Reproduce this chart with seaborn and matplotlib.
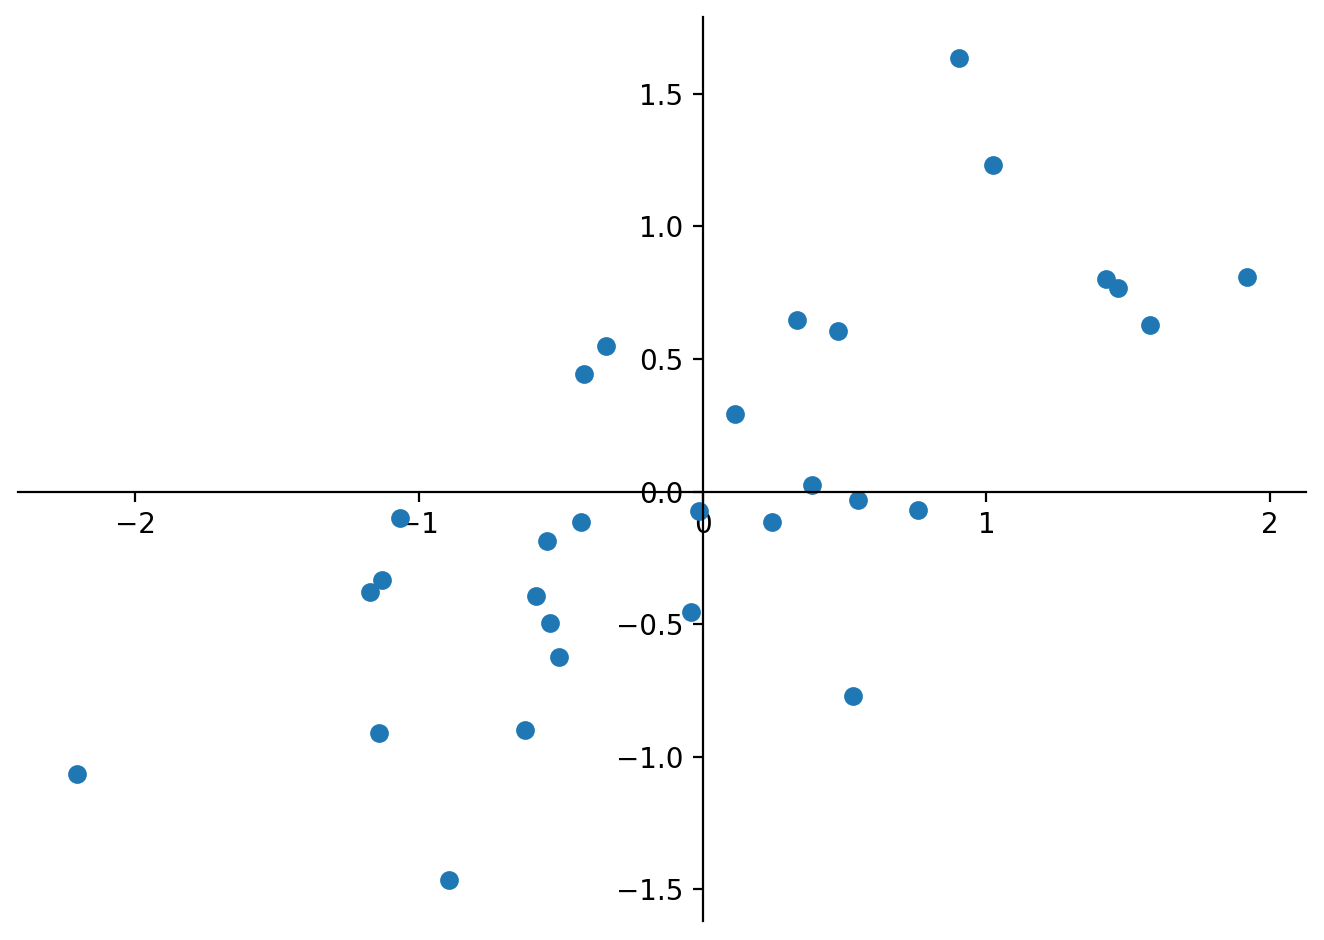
import matplotlib
matplotlib.use("Agg")
import matplotlib.pyplot as plt
import seaborn as sns
import pandas as pd

sns.set_style("ticks", {"axes.edgecolor": "black", "text.color": "black",
                        "xtick.color": "black", "ytick.color": "black",
                        "axes.labelcolor": "black"})
plt.rcParams['font.family'] = ['DejaVu Sans']

# valores
x_vals = [0.904, 1.024, 1.423, 1.465, 1.920, 1.578, 0.332, 0.477, -0.339, -0.417,
          0.113, 0.385, 0.547, 0.759, 0.244, -0.011, -0.427, -0.547, -1.066, -1.130,
          -1.172, -0.586, -0.537, -0.505, -0.042, 0.529, -0.625, -1.140, -2.206, -0.893]
y_vals = [1.634, 1.230, 0.800, 0.766, 0.808, 0.626, 0.645, 0.604, 0.547, 0.445,
          0.291, 0.026, -0.030, -0.068, -0.113, -0.072, -0.113, -0.185, -0.098, -0.332,
          -0.377, -0.392, -0.494, -0.623, -0.453, -0.770, -0.898, -0.909, -1.064, -1.464]

df = pd.DataFrame({"x": x_vals, "y": y_vals})

fig = plt.figure(figsize=(6.62, 4.70), dpi=200)
ax = fig.add_axes([18 / 1324, 1 - 921 / 940, (1306 - 18) / 1324, (921 - 17) / 940])

sns.scatterplot(data=df, x="x", y="y", ax=ax, color="#1f77b4", s=36,
                edgecolor="#1f77b4", linewidth=0.75)

ax.spines['left'].set_position('zero')
ax.spines['bottom'].set_position('zero')
ax.spines['right'].set_visible(False)
ax.spines['top'].set_visible(False)
ax.set_xlabel("")
ax.set_ylabel("")
ax.tick_params(labelsize=10, colors="black")

fig.savefig("out.png", dpi=200)
